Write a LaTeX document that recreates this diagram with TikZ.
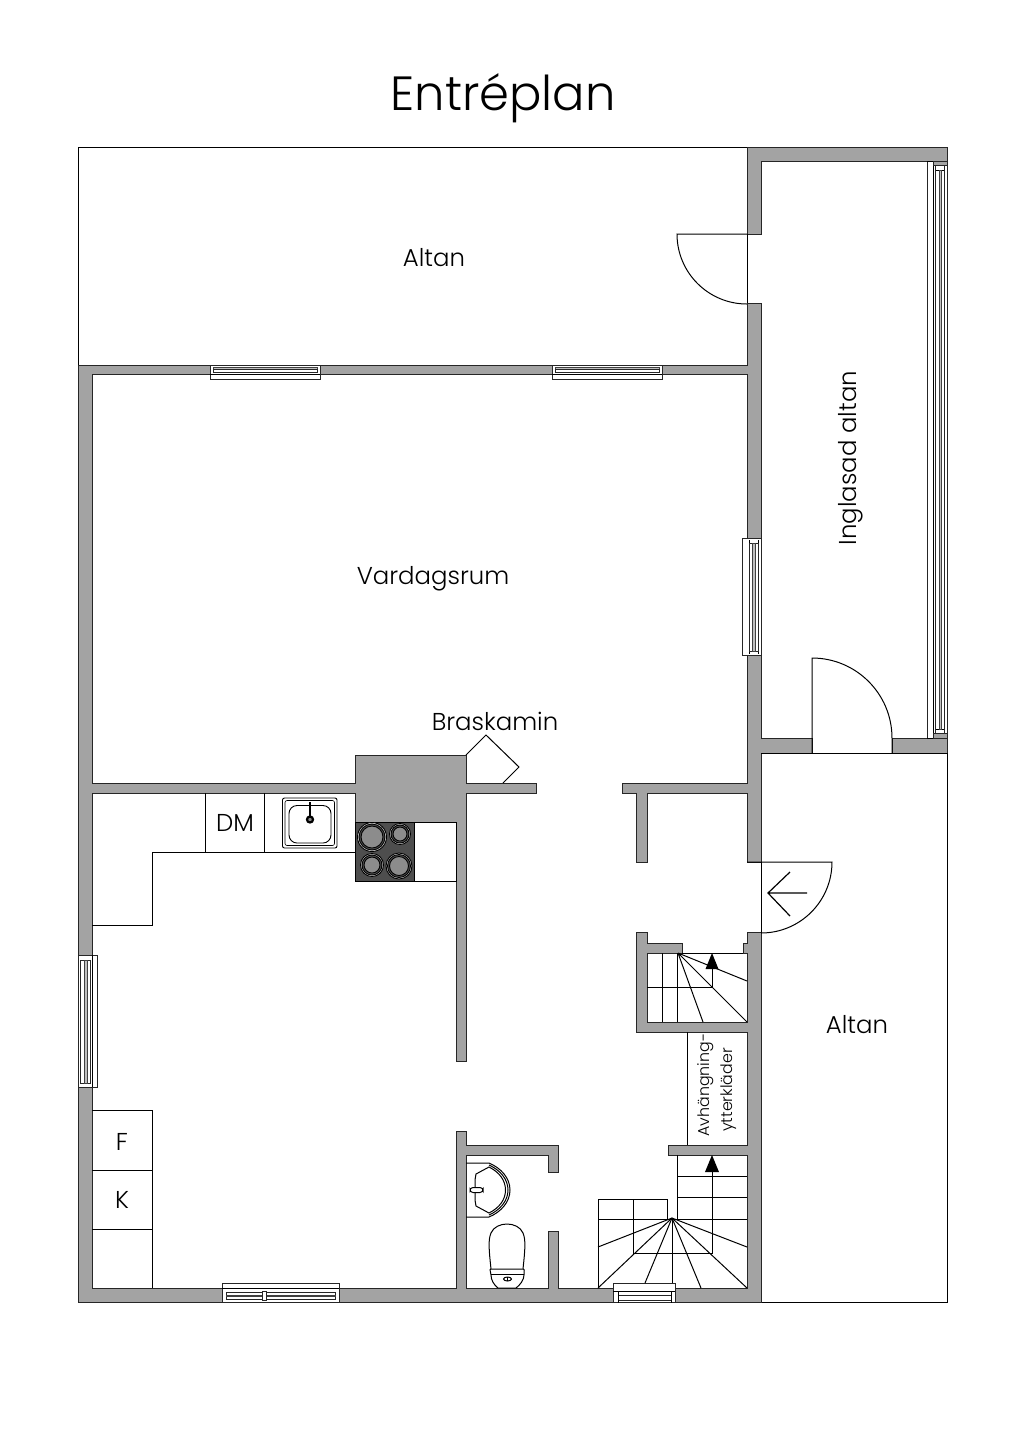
\documentclass[tikz,border=0pt]{standalone}
\usepackage{fontspec}
\setmainfont{Poppins}[UprightFont=* Light]
\definecolor{wallgray}{HTML}{A3A3A3}
\definecolor{stovegray}{HTML}{4E4E4E}
\definecolor{ringgray}{HTML}{8C8C8C}
\tikzset{
  wall/.style={fill=wallgray,draw=black!85,line width=0.45pt,line join=miter},
  room/.style={fill=white,draw=black!85,line width=0.5pt,line join=miter},
  thin line/.style={draw=black,line width=0.5pt},
  stairline/.style={draw=black,line width=0.5pt},
  winbox/.style={fill=white,draw=black!85,line width=0.45pt},
  wingray/.style={fill=wallgray!70,draw=black!75,line width=0.3pt},
  ring/.style={draw=black,line width=0.45pt},
  label/.style={inner sep=0pt,text=black,font=\fontsize{12.2}{14}\selectfont},
  stairhead/.style={fill=black,draw=none},
}
\begin{document}
\begin{tikzpicture}[x=0.5pt,y=-0.5pt]
\useasboundingbox (0,0) rectangle (1024,1448);
% outdoor terraces
\draw[thin line] (78,147) rectangle (747,365);
\draw[thin line] (761,753) rectangle (947.5,1302.5);
% shell
\draw[wall] (78,365)--(747,365)--(747,303)--(761,303)--(761,738)--(812,738)--(812,753)--(761,753)--(761,1302.5)--(78,1302.5)--cycle;
\draw[wall] (747,147)--(947.5,147)--(947.5,165)--(933,165)--(933,161)--(761,161)--(761,234)--(747,234)--cycle;
\draw[wall] (892,738)--(933,738)--(933,733)--(947.5,733)--(947.5,753)--(892,753)--cycle;
% interior
\draw[room] (92,374)--(747,374)--(747,783)--(622,783)--(622,793)--(636.5,793)--(636.5,862)--(647,862)--(647,793)--(747,793)--(747,862)--(761,862)--(761,932)--(747,932)--(747,943)--(743,943)--(743,953)--(747,953)--(747,1022)--(647,1022)--(647,953)--(682,953)--(682,943)--(647,943)--(647,932)--(636.5,932)--(636.5,1032)--(747,1032)--(747,1145)--(668,1145)--(668,1155)--(747,1155)--(747,1288)--(558,1288)--(558,1231)--(548,1231)--(548,1288)--(466,1288)--(466,1155)--(548,1155)--(548,1172)--(558,1172)--(558,1145)--(466,1145)--(466,1131)--(456,1131)--(456,1288)--(92,1288)--(92,793)--(355,793)--(355,822)--(456,822)--(456,1061)--(466,1061)--(466,793)--(536,793)--(536,783)--(466,783)--(466,755)--(355,755)--(355,783)--(92,783)--cycle;
% windows: top wall
\foreach \xa/\xb in {210/320,552/662}{
  \draw[winbox] (\xa,365) rectangle (\xb,379);
  \draw[wingray] (\xa+3,367) rectangle (\xb-3,369.5);
  \draw[winbox] (\xa+3,369.5) rectangle (\xb-3,372.5);
  \draw[thin line] (\xa,374)--(\xb,374);
}
% window right wall of living room
\draw[winbox] (742,538) rectangle (761,655);
\draw[thin line] (749,540)--(749,654) (758,540)--(758,654);
\draw[winbox] (749,543) rectangle (758,651);
\draw[wingray] (752.5,543) rectangle (755,651);
% window left wall kitchen
\draw[winbox] (78,955) rectangle (97.5,1087);
\draw[thin line] (92.5,955)--(92.5,1087);
\draw[winbox] (80.5,960) rectangle (90,1083);
\draw[wingray] (84,960) rectangle (87,1083);
% window bottom wall kitchen
\draw[winbox] (222,1283) rectangle (339,1302.5);
\draw[thin line] (222,1288)--(339,1288);
\draw[winbox] (226,1292) rectangle (335,1299);
\draw[wingray] (226,1295) rectangle (335,1296.5);
\draw[winbox] (262,1291) rectangle (266.5,1300);
% stair window
\draw[winbox] (613,1283) rectangle (675,1302.5);
\draw[thin line] (613,1291)--(675,1291);
\draw[winbox] (618,1295) rectangle (671,1300);
\draw[thin line] (618,1291)--(618,1302.5) (671,1291)--(671,1302.5);
% long window of inglasad altan
\draw[winbox] (927,161) rectangle (947.5,738);
\fill[white] (927.5,161.5) rectangle (933,737.5);
\draw[thin line] (927,161)--(933,161) (927,738)--(933,738) (933,165)--(933,733);
\draw[wall] (933,161)--(947.5,161)--(947.5,165)--(933,165)--cycle;
\draw[wall] (933,733)--(947.5,733)--(947.5,738)--(933,738)--cycle;
\draw[winbox] (935.5,165) rectangle (944,733);
\draw[thin line] (936,170)--(944,170) (936,729)--(944,729);
\draw[wingray] (939,170) rectangle (941,729);
% doors
\draw[thin line] (747,234)--(677,234) arc[start angle=180,end angle=90,radius=70];
\draw[thin line] (747,234)--(747,303);
\draw[thin line] (812,753)--(812,658) arc[start angle=-90,end angle=0,radius=80]--(892,753);
\draw[thin line] (761,753)--(947.5,753);
\draw[thin line] (747,862)--(832,862) arc[start angle=0,end angle=90,radius=71];
\draw[thin line] (761,862)--(761,933);
\draw[thin line,line width=0.6pt] (807,893)--(768,893) (790,872)--(768,893)--(790,916);
% kitchen counters
\draw[thin line] (355,852)--(152,852)--(152,925)--(92,925);
\draw[thin line] (205,793)--(205,852) (264,793)--(264,852);
\draw[thin line] (92,1110)--(152,1110)--(152,1288);
\draw[thin line] (92,1170)--(152,1170) (92,1229)--(152,1229);
% sink
\draw[draw=black,line width=0.45pt,fill=white,rounded corners=1pt] (282.5,798) rectangle (337,848);
\draw[draw=black,line width=0.3pt,rounded corners=1pt] (285,800.5) rectangle (334.5,845.5);
\draw[draw=black,line width=0.45pt,rounded corners=4pt] (289,805.5) rectangle (331,843);
\draw[black,line width=0.9pt] (310,802)--(310,816);
\draw[black,line width=1.1pt,fill=ringgray] (310,819.5) circle[radius=3];
% stove
\draw[draw=black,fill=stovegray,line width=0.45pt] (355,822) rectangle (414,881);
\draw[thin line] (414,822) rectangle (456,881);
\foreach \hx/\hy/\hr in {372/837/14.5,400/834/10.5,372/865/11.5,399/866/13}{
  \draw[ring,fill=ringgray!30] (\hx,\hy) circle[radius=\hr];
  \draw[ring,fill=stovegray] (\hx,\hy) circle[radius=\hr-1.5];
  \draw[ring,fill=ringgray] (\hx,\hy) circle[radius=\hr-3.5];
}
% braskamin
\draw[thin line] (466,755)--(486,735)--(519,767)--(503,783);
% stair 1
\draw[stairline] (662,953)--(662,1022) (677,953)--(677,1022);
\draw[stairline] (682,953)--(743,953);
\draw[stairline] (647,987)--(712,987)--(712,960);
\fill[stairhead] (712,953)--(718.5,969)--(705.5,969)--cycle;
\draw[stairline] (678,953)--(747,981) (678,953)--(747,1022) (678,953)--(703,1022);
% avhangning
\draw[thin line] (687,1032)--(687,1145);
% stair 2
\draw[stairline] (677,1155)--(677,1219);
\draw[stairline] (677,1176)--(747,1176) (677,1197)--(747,1197);
\draw[stairline] (598,1219)--(747,1219);
\draw[stairline] (598,1288)--(598,1199)--(667,1199)--(667,1219);
\draw[stairline] (633,1199)--(633,1253)--(712,1253)--(712,1165);
\fill[stairhead] (712,1155)--(719,1172)--(705,1172)--cycle;
\foreach \ex/\ey in {598/1247,598/1288,645/1283,672/1283,701/1288,747/1288,747/1247}{
  \draw[stairline] (672,1218)--(\ex,\ey);
}
% wc basin
\draw[thin line] (466,1163)--(489,1163) .. controls (501,1168) and (510,1178) .. (510,1190) .. controls (510,1202) and (501,1212) .. (489,1217)--(466,1217);
\draw[thin line] (489,1165) .. controls (500,1170) and (508,1179) .. (508,1190) .. controls (508,1201) and (500,1210) .. (489,1215);
\draw[thin line] (476,1174)--(489,1167) .. controls (499,1172) and (505.5,1180) .. (505.5,1190) .. controls (505.5,1200) and (499,1208) .. (489,1213)--(476,1206)--(475,1200)--(475,1180)--cycle;
\draw[thin line,fill=white,rounded corners=1.5pt] (470,1187.5) rectangle (483,1192.5);
% wc
\draw[thin line] (491,1269) .. controls (489,1250) and (488,1240) .. (491,1233) .. controls (496,1221) and (518,1221) .. (523,1233) .. controls (526,1240) and (525,1250) .. (523,1269);
\draw[thin line,fill=white] (491,1269)--(523,1269) .. controls (525,1269) and (524,1272) .. (524,1275) .. controls (524,1280) and (520,1285) .. (516,1288)--(498,1288) .. controls (494,1285) and (491,1280) .. (491,1275) .. controls (491,1272) and (489,1269) .. (491,1269)--cycle;
\draw[thin line] (491,1274)--(524,1274);
\draw[thin line] (507.5,1279) ellipse[x radius=4,y radius=2];
\draw[thin line] (507.5,1277)--(507.5,1281);
% labels
\node[label,font=\fontsize{24}{28}\selectfont] (title) at (503,98) {Entréplan};
\node[label] (altan1) at (434,258) {Altan};
\node[label] (altan2) at (857,1025) {Altan};
\node[label] (vardagsrum) at (433,579) {Vardagsrum};
\node[label] (braskamin) at (495,721.5) {Braskamin};
\node[label,rotate=90] (inglasad) at (851,458) {Inglasad altan};
\node[label] (dm) at (235,823) {DM};
\node[label] (f) at (122,1142) {F};
\node[label] (k) at (122,1200) {K};
\node[label,rotate=90,font=\fontsize{7.9}{10}\selectfont] (avh1) at (706,1085) {Avhängning-};
\node[label,rotate=90,font=\fontsize{7.9}{10}\selectfont] (avh2) at (729,1090) {ytterkläder};
\end{tikzpicture}
\end{document}
